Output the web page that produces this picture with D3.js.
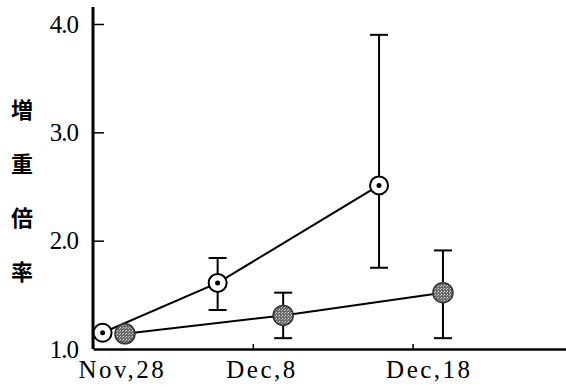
<!DOCTYPE html>
<html>
<head>
<meta charset="utf-8">
<script src="https://cdn.jsdelivr.net/npm/d3@7"></script>
<style>
  body { margin: 0; background: #fff; }
  svg { display: block; }
</style>
</head>
<body>
<script>
// days after Nov 28
const openDays = [0.6, 7.8, 17.9]
const openValues = [1.15, 1.61, 2.51]
const openLow = [null, 1.36, 1.75]
const openHigh = [null, 1.84, 3.90]

const filledDays = [2.0, 11.9, 21.9]
const filledValues = [1.14, 1.31, 1.52]
const filledLow = [null, 1.10, 1.10]
const filledHigh = [null, 1.52, 1.91]

const xTicks = [0, 10, 20]
const xTickLabels = ['Nov,28', 'Dec,8', 'Dec,18']
const yTicks = [1, 2, 3, 4]
const yTickLabels = ['1.0', '2.0', '3.0', '4.0']
const yTitle = ['増', '重', '倍', '率']

const width = 566, height = 387
const margin = {top: 7, right: 0, bottom: 38, left: 93}

const svg = d3.select('body').append('svg')
    .attr('width', width)
    .attr('height', height)

const xScale = d3.scaleLinear()
    .domain([0, 29.6])
    .range([margin.left, width - margin.right])

const yScale = d3.scaleLinear()
    .domain([1, 4])
    .range([height - margin.bottom, 24])

// x axis
const xAxis = svg.append('g')
    .attr('transform', 'translate(0,' + (height - margin.bottom) + ')')
    .call(d3.axisBottom(xScale)
        .tickValues(xTicks)
        .tickSizeInner(-5)
        .tickSizeOuter(0)
        .tickFormat((d, i) => xTickLabels[i]))
xAxis.select('.domain').attr('stroke-width', 2.5)
xAxis.selectAll('.tick line').attr('stroke-width', 1.5)
xAxis.selectAll('.tick text')
    .attr('text-anchor', 'start')
    .attr('dx', (d, i) => i === 0 ? -15 : -27)
    .attr('y', 11)
    .attr('font-family', 'Liberation Serif, serif')
    .attr('font-size', 25)
    .attr('letter-spacing', 2.5)
    .attr('fill', '#000')

// y axis
const yAxis = svg.append('g')
    .attr('transform', 'translate(' + margin.left + ',0)')
    .call(d3.axisLeft(yScale)
        .tickValues(yTicks)
        .tickSizeInner(-11)
        .tickSizeOuter(0)
        .tickFormat((d, i) => yTickLabels[i]))
yAxis.select('.domain')
    .attr('d', 'M0,' + margin.top + 'V' + (height - margin.bottom))
    .attr('stroke-width', 3)
yAxis.selectAll('.tick line').attr('stroke-width', 1.5)
yAxis.selectAll('.tick text')
    .attr('x', -15)
    .attr('font-family', 'Liberation Serif, serif')
    .attr('font-size', 25)
    .attr('letter-spacing', -1)
    .attr('fill', '#000')
yAxis.selectAll('.tick').filter(d => d === 1).select('line').remove()

// vertical title
svg.append('g').selectAll('text').data(yTitle)
    .enter()
    .append('text')
        .attr('x', 22)
        .attr('y', (d, i) => 110 + i * 54)
        .attr('dy', '0.35em')
        .attr('text-anchor', 'middle')
        .attr('font-family', 'Noto Sans CJK JP')
        .attr('font-weight', 'bold')
        .attr('font-size', 22)
        .text(d => d)

function drawSeries(days, values, low, high, kind) {
    const data = days.map((d, i) => ({day: d, v: values[i], lo: low[i], hi: high[i]}))

    const line = d3.line()
        .x(d => xScale(d.day))
        .y(d => yScale(d.v))

    svg.append('path')
        .datum(data)
        .attr('d', line)
        .attr('fill', 'none')
        .attr('stroke', '#000')
        .attr('stroke-width', 2)

    const bars = data.filter(d => d.lo !== null)
    const g = svg.append('g')
    g.selectAll('.stem').data(bars).enter()
        .append('line')
            .attr('x1', d => xScale(d.day))
            .attr('x2', d => xScale(d.day))
            .attr('y1', d => yScale(d.lo))
            .attr('y2', d => yScale(d.hi))
            .attr('stroke', '#000')
            .attr('stroke-width', 2)
    g.selectAll('.caphi').data(bars).enter()
        .append('line')
            .attr('x1', d => xScale(d.day) - 9)
            .attr('x2', d => xScale(d.day) + 9)
            .attr('y1', d => yScale(d.hi))
            .attr('y2', d => yScale(d.hi))
            .attr('stroke', '#000')
            .attr('stroke-width', 2)
    g.selectAll('.caplo').data(bars).enter()
        .append('line')
            .attr('x1', d => xScale(d.day) - 9)
            .attr('x2', d => xScale(d.day) + 9)
            .attr('y1', d => yScale(d.lo))
            .attr('y2', d => yScale(d.lo))
            .attr('stroke', '#000')
            .attr('stroke-width', 2)

    if (kind === 'open') {
        svg.selectAll('.open').data(data).enter()
            .append('circle')
                .attr('cx', d => xScale(d.day))
                .attr('cy', d => yScale(d.v))
                .attr('r', 9)
                .attr('fill', '#fff')
                .attr('stroke', '#000')
                .attr('stroke-width', 2)
        svg.selectAll('.dot').data(data).enter()
            .append('circle')
                .attr('cx', d => xScale(d.day))
                .attr('cy', d => yScale(d.v))
                .attr('r', 2.5)
                .attr('fill', '#000')
    } else {
        svg.selectAll('.filled').data(data).enter()
            .append('circle')
                .attr('cx', d => xScale(d.day))
                .attr('cy', d => yScale(d.v))
                .attr('r', 10)
                .attr('fill', 'url(#stipple)')
                .attr('stroke', '#333')
                .attr('stroke-width', 1.5)
    }
}

// stipple pattern for filled markers
const pat = svg.append('defs').append('pattern')
    .attr('id', 'stipple')
    .attr('width', 3).attr('height', 3)
    .attr('patternUnits', 'userSpaceOnUse')
pat.append('rect').attr('width', 3).attr('height', 3).attr('fill', '#6a6a6a')
pat.append('rect').attr('width', 1).attr('height', 1).attr('fill', '#ddd')
pat.append('rect').attr('x', 2).attr('y', 1).attr('width', 1).attr('height', 1).attr('fill', '#bbb')

drawSeries(openDays, openValues, openLow, openHigh, 'open')
drawSeries(filledDays, filledValues, filledLow, filledHigh, 'filled')
</script>
</body>
</html>
